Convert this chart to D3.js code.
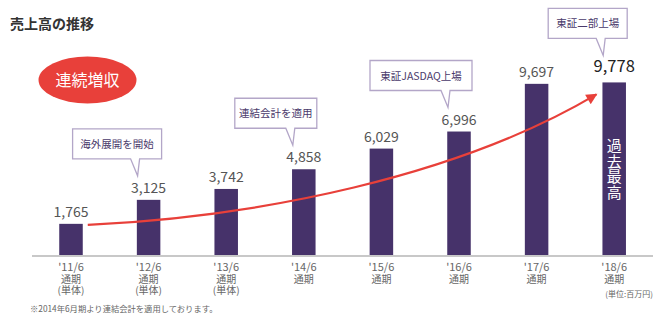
<!DOCTYPE html>
<html><head><meta charset="utf-8">
<script src="https://cdn.jsdelivr.net/npm/d3@7"></script>
<style>
body{margin:0;background:#fff;}
svg{display:block;font-family:"Noto Sans CJK JP","Noto Sans",sans-serif;}
</style></head>
<body><svg id="c" width="670" height="321"></svg>
<script>
const periods = ["'11/6","'12/6","'13/6","'14/6","'15/6","'16/6","'17/6","'18/6"];
const subLabels = ["通期","通期","通期","通期","通期","通期","通期","通期"];
const subLabels2 = ["(単体)","(単体)","(単体)","","","","",""];
const sales = [1765,3125,3742,4858,6029,6996,9697,9778];
const callouts = [
  {idx:1, text:"海外展開を開始"},
  {idx:3, text:"連結会計を適用"},
  {idx:5, text:"東証JASDAQ上場"},
  {idx:7, text:"東証二部上場"}
];
const title = "売上高の推移";
const badge = "連続増収";
const recordLabel = "過去最高";
const unitLabel = "(単位:百万円)";
const footnote = "※2014年6月期より連結会計を適用しております。";

const svg = d3.select("#c");
const barColor = "#46326a";
const red = "#e8403a";

const x = d3.scaleBand().domain(periods).range([32.2, 653]).paddingInner(0.697).paddingOuter(0.3485);
const y = d3.scaleLinear().domain([0, 10000]).range([255, 78.5]);
const cx = i => x(periods[i]) + x.bandwidth()/2;

// title
svg.append("text").attr("x",10).attr("y",29).attr("font-size",14).attr("font-weight","bold")
  .attr("fill","#333").text(title);

// bars
svg.selectAll("rect.bar").data(sales).join("rect").attr("class","bar")
  .attr("x",(d,i)=>x(periods[i])).attr("width",x.bandwidth())
  .attr("y",d=>y(d)).attr("height",d=>y(0)-y(d)).attr("fill",barColor);

// axis line
svg.append("line").attr("x1",32).attr("x2",653).attr("y1",y(0)+1).attr("y2",y(0)+1)
  .attr("stroke","#c8c8c8").attr("stroke-width",2);

// value labels
svg.selectAll("text.val").data(sales).join("text").attr("class","val")
  .attr("x",(d,i)=>cx(i)).attr("y",(d,i)=> i===7 ? y(d)-10 : y(d)-7)
  .attr("text-anchor","middle")
  .attr("font-size",(d,i)=> i===7 ? 16.5 : 14)
  .attr("fill",(d,i)=> i===7 ? "#222" : "#555")
  .text(d=>d3.format(",")(d));

// x labels
periods.forEach((p,i)=>{
  const t = svg.append("text").attr("text-anchor","middle").attr("fill","#666").attr("font-size",10);
  t.append("tspan").attr("x",cx(i)).attr("y",271).attr("font-size",11).text(p);
  t.append("tspan").attr("x",cx(i)).attr("y",282.5).text(subLabels[i]);
  if (subLabels2[i]) t.append("tspan").attr("x",cx(i)).attr("y",294).text(subLabels2[i]);
});

// unit + footnote
svg.append("text").attr("x",653).attr("y",297).attr("text-anchor","end").attr("font-size",8)
  .attr("fill","#666").text(unitLabel);
svg.append("text").attr("x",30).attr("y",312).attr("font-size",8.3)
  .attr("fill","#666").text(footnote);

// record vertical text
svg.append("text").attr("x",cx(7)).attr("y",138).attr("writing-mode","vertical-rl")
  .attr("fill","#fff").attr("font-size",15).attr("letter-spacing",0.5).text(recordLabel);

// arrow
const defs = svg.append("defs");
defs.append("marker").attr("id","ah").attr("viewBox","0 0 10 10").attr("refX",9).attr("refY",5)
  .attr("markerWidth",6).attr("markerHeight",5).attr("orient","auto").attr("markerUnits","strokeWidth")
  .append("path").attr("d","M0,0 L10,5 L0,10 z").attr("fill",red);
const x0 = x(periods[0]) + x.bandwidth() + 5, y0 = y(sales[0]) + 1;
const x1 = x(periods[7]) - 6, y1 = y(sales[7]) + 12;
const p = d3.path();
p.moveTo(x0,y0);
p.bezierCurveTo(x0+170, y0-8, x0+370, y0-48, x1, y1);
svg.append("path").attr("d",p.toString()).attr("fill","none").attr("stroke",red)
  .attr("stroke-width",2.2).attr("marker-end","url(#ah)");

// badge ellipse
svg.append("ellipse").attr("cx",87.5).attr("cy",80).attr("rx",49).attr("ry",23.5).attr("fill",red);
svg.append("text").attr("x",87.5).attr("y",86).attr("text-anchor","middle").attr("fill","#fff")
  .attr("font-size",16).text(badge);

// callouts
const boxW = {1:89, 3:82, 5:102, 7:79};
callouts.forEach(c=>{
  const tipX = cx(c.idx) - 11, tipY = (c.idx===7 ? y(sales[c.idx]) - 27 : y(sales[c.idx]) - 24);
  const bw = boxW[c.idx], bh = 30;
  const bx = tipX - bw + 24, by = tipY - 17 - bh;
  const tx1 = tipX - 7, tx2 = tipX + 2;
  const d = `M${bx},${by} H${bx+bw} V${by+bh} H${tx2} L${tipX},${tipY} L${tx1},${by+bh} H${bx} Z`;
  svg.append("path").attr("d",d).attr("fill","#fff").attr("stroke","#b3a6c8").attr("stroke-width",1.3);
  svg.append("text").attr("x",bx+bw/2).attr("y",by+bh/2+4).attr("text-anchor","middle")
    .attr("font-size",10.5).attr("fill","#4a3a6b").text(c.text);
});
</script></body></html>
